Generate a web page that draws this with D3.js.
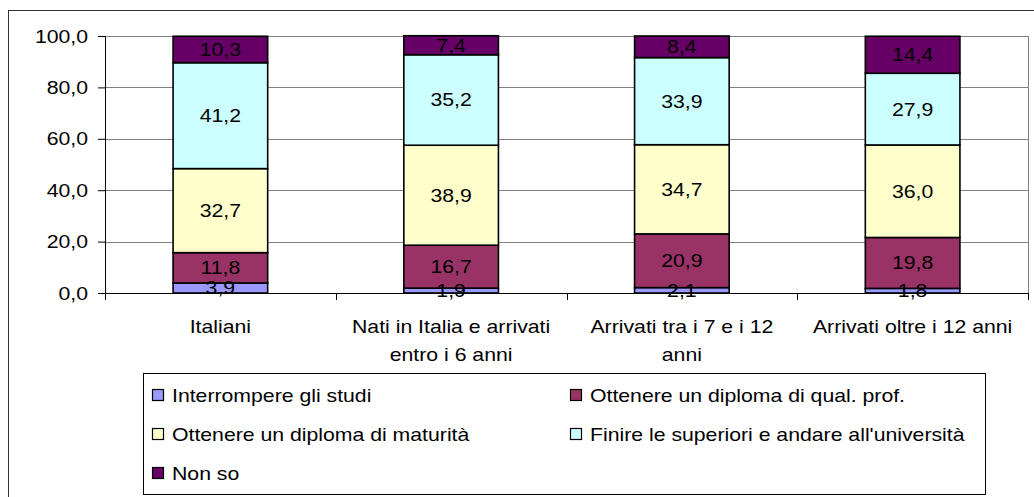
<!DOCTYPE html>
<html>
<head>
<meta charset="utf-8">
<script src="https://cdn.jsdelivr.net/npm/d3@7"></script>
<style>
  body { margin: 0; background: #fff; }
  svg text { font-family: "Liberation Sans", Arial, sans-serif; fill: #000; }
</style>
</head>
<body>
<svg id="chart" width="1034" height="497"></svg>
<script>
// categories (each as its wrapped label lines)
var categories = ["Italiani", "Nati in Italia e arrivati entro i 6 anni", "Arrivati tra i 7 e i 12 anni", "Arrivati oltre i 12 anni"];
var categoryLines = [["Italiani"], ["Nati in Italia e arrivati", "entro i 6 anni"], ["Arrivati tra i 7 e i 12", "anni"], ["Arrivati oltre i 12 anni"]];

// series, bottom to top
var seriesNames = ["Interrompere gli studi", "Ottenere un diploma di qual. prof.", "Ottenere un diploma di maturità", "Finire le superiori e andare all'università", "Non so"];
var seriesColors = ["#9999ff", "#993366", "#ffffcc", "#ccffff", "#660066"];

var interrompere = [3.9, 1.9, 2.1, 1.8];
var qualProf = [11.8, 16.7, 20.9, 19.8];
var maturita = [32.7, 38.9, 34.7, 36.0];
var universita = [41.2, 35.2, 33.9, 27.9];
var nonSo = [10.3, 7.4, 8.4, 14.4];

var yTicks = [0, 20, 40, 60, 80, 100];

var seriesValues = [interrompere, qualProf, maturita, universita, nonSo];

var svg = d3.select("#chart");
var plot = {left: 105, right: 1028, top: 36, bottom: 293};
var stretch = 1.18; // the reference text is drawn wider than tall
var fontSize = 18;

function fmt(v) { return v.toFixed(1).replace(".", ","); }

// text helper, the reference glyphs are horizontally stretched
function putText(g, str, x, y, anchor) {
    return g.append("text")
        .attr("transform", "translate(" + x + "," + y + ") scale(" + stretch + ",1)")
        .attr("text-anchor", anchor)
        .style("font-size", fontSize + "px")
        .text(str);
}

// outer frame
svg.append("rect")
    .attr("x", 8.5).attr("y", 10.5)
    .attr("width", 1100).attr("height", 600)
    .style("fill", "none").style("stroke", "#333").style("stroke-width", 1);

var x = d3.scaleBand()
    .domain(categories)
    .range([plot.left, plot.right])
    .paddingInner(0.59)
    .paddingOuter(0.295);

var y = d3.scaleLinear().domain([0, 100]).range([plot.bottom, plot.top]);

// gridlines
svg.append("g").selectAll("line")
    .data(yTicks.filter(function(d){ return d > 0; }))
    .enter().append("line")
    .attr("x1", plot.left).attr("x2", plot.right)
    .attr("y1", function(d){ return Math.round(y(d)) + 0.5; })
    .attr("y2", function(d){ return Math.round(y(d)) + 0.5; })
    .style("stroke", "#808080").style("stroke-width", 1);

// plot area right border
svg.append("line")
    .attr("x1", plot.right + 0.5).attr("x2", plot.right + 0.5)
    .attr("y1", plot.top).attr("y2", plot.bottom)
    .style("stroke", "#808080").style("stroke-width", 1);

// stacked data
var rows = categories.map(function(c, i){
    var r = {category: c};
    seriesNames.forEach(function(s, j){ r[s] = seriesValues[j][i]; });
    return r;
});
var stacked = d3.stack().keys(seriesNames)(rows);

var layers = svg.append("g").selectAll("g")
    .data(stacked)
    .enter().append("g")
    .style("fill", function(d, i){ return seriesColors[i]; });

layers.selectAll("rect")
    .data(function(d){ return d; })
    .enter().append("rect")
    .attr("x", function(d){ return x(d.data.category); })
    .attr("width", x.bandwidth())
    .attr("y", function(d){ return y(d[1]); })
    .attr("height", function(d){ return y(d[0]) - y(d[1]); })
    .style("stroke", "#000")
    .style("stroke-width", 1.6);

// segment labels
var labels = svg.append("g");
stacked.forEach(function(layer, j){
    layer.forEach(function(d, i){
        var cx = x(d.data.category) + x.bandwidth() / 2;
        var cy = (y(d[0]) + y(d[1])) / 2 + 6.5;
        putText(labels, fmt(seriesValues[j][i]), cx, cy, "middle");
    });
});

// y axis
var yAxis = svg.append("g")
    .attr("transform", "translate(" + plot.left + ",0)")
    .call(d3.axisLeft(y).tickValues(yTicks).tickSize(7).tickFormat(""));
yAxis.select(".domain").attr("stroke", "#000");
yAxis.selectAll(".tick line").attr("stroke", "#000");
yTicks.forEach(function(t){
    putText(svg, fmt(t), 88, y(t) + 6.5, "end");
});

// x axis with ticks between categories
svg.append("line")
    .attr("x1", plot.left).attr("x2", plot.right + 1)
    .attr("y1", plot.bottom + 0.5).attr("y2", plot.bottom + 0.5)
    .style("stroke", "#000").style("stroke-width", 1);
svg.append("g").selectAll("line")
    .data(d3.range(categories.length + 1))
    .enter().append("line")
    .attr("x1", function(i){ return Math.round(plot.left + i * x.step()) + 0.5; })
    .attr("x2", function(i){ return Math.round(plot.left + i * x.step()) + 0.5; })
    .attr("y1", plot.bottom).attr("y2", plot.bottom + 7)
    .style("stroke", "#000");

var catLabels = svg.append("g");
categoryLines.forEach(function(lines, i){
    var cx = x(categories[i]) + x.bandwidth() / 2;
    lines.forEach(function(line, k){
        putText(catLabels, line, cx, 333 + k * 28, "middle");
    });
});

// legend
svg.append("rect")
    .attr("x", 143.5).attr("y", 373.5)
    .attr("width", 842).attr("height", 121)
    .style("fill", "#fff").style("stroke", "#000");

var legendPos = [[152, 395], [570, 395], [152, 434], [570, 434], [152, 473]];
var legend = svg.append("g");
seriesNames.forEach(function(s, i){
    var p = legendPos[i];
    legend.append("rect")
        .attr("x", p[0] + 0.5).attr("y", p[1] - 5.5)
        .attr("width", 11).attr("height", 11)
        .style("fill", seriesColors[i]).style("stroke", "#000").style("stroke-width", 1.2);
    putText(legend, s, p[0] + 20, p[1] + 6.5, "start");
});
</script>
</body>
</html>
